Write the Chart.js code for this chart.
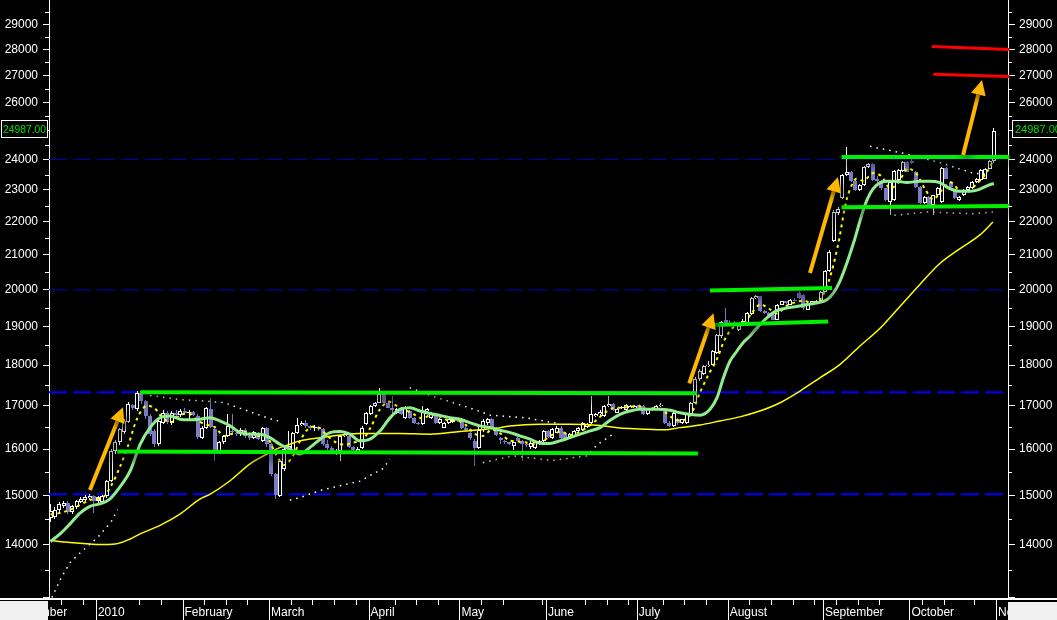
<!DOCTYPE html>
<html><head><meta charset="utf-8">
<script src="https://cdn.jsdelivr.net/npm/chart.js@4.4.1/dist/chart.umd.min.js"></script>
<style>html,body{margin:0;padding:0;background:#000;overflow:hidden}canvas{display:block}</style>
</head><body>
<canvas id="c" width="1057" height="620"></canvas>
<script>
// ---- daily OHLC (trading-day index 0 = mid December 2009) ----
const open = [14530,14560,14690,14770,14840,14650,14750,14860,14900,14950,14980,
14870,14860,14980,15300,15960,16150,16400,16630,17010,16920,17300,17120,16760,16410,16110,16600,16840,16600,16830,16790,
16880,16820,16860,16760,16260,16480,16930,16460,15930,16150,16300,16410,16370,16340,16430,16300,16250,16340,16190,16470,
16110,15450,14990,15560,16000,15970,16370,16560,16600,16530,16470,16500,16460,16110,16020,15930,15960,16300,16300,16040,15960,16030,16570,
16800,17000,17080,17280,17080,16960,16840,16920,16720,16880,16720,16600,16570,16880,16720,16800,16600,16490,16600,16620,16690,
16690,16490,16370,16190,16030,16440,16590,16690,16490,16260,16180,16150,16080,16260,16190,16120,16050,16030,16110,16180,
16410,16260,16375,16490,16370,16280,16300,16410,16430,16500,16600,16760,16800,16760,17000,17050,16840,16950,16900,16960,16960,
17020,17000,16800,16950,16960,17000,16900,16600,16530,16700,16600,16600,16800,17080,17640,17770,17970,18010,18300,18740,19180,
19100,19090,18910,19060,19045,19340,19770,19815,19410,19360,19310,19180,19590,19680,19590,19720,19900,19860,19450,19630,19640,19700,
19950,20520,21400,22260,22730,23480,23590,23300,23000,23150,23750,23860,23370,23300,23050,22620,22680,23320,23610,23920,
23940,23600,23100,22570,22780,22520,22830,22620,23720,23260,23000,22680,22840,23000,23050,23250,23320,23370,23700,23950];
const high = [14820,14760,14860,14880,14870,14800,14900,14960,15000,15020,15000,
14990,15010,15330,16000,16200,16480,16700,17100,17050,17360,17320,17150,16800,16450,16700,16900,16870,16870,16900,16920,
16950,16900,16880,16800,16520,16980,17190,16500,16180,16320,16800,16800,16420,16470,16470,16380,16420,16380,16500,16500,
16140,15480,15760,16030,16420,16400,16720,16640,16660,16560,16560,16530,16480,16200,16060,16010,16320,16380,16320,16060,16040,16520,16860,
17020,17100,17440,17300,17100,17240,16960,16940,17000,16900,16740,16620,17000,16960,16860,16820,16720,16620,16700,16710,16720,
16720,16520,16400,16220,16520,16700,16720,16720,16510,16280,16200,16170,16170,16280,16210,16160,16180,16170,16200,16430,
16430,16480,16520,16520,16400,16360,16430,16510,16620,16600,17240,16830,16900,17030,17240,17080,16940,17000,17050,17010,17030,
17050,17030,16940,16980,17020,17070,16920,16650,16860,16720,16700,16840,17100,17700,17900,18000,18100,18380,18800,19150,19500,
19180,19140,19100,19200,19380,19790,19850,19840,19440,19380,19330,19610,19700,19700,19740,19760,19960,19880,19650,19700,19720,19980,
20550,21150,22350,22450,23520,24430,23620,23350,23180,23780,23900,23880,23450,23320,23080,23280,23640,23680,23950,23940,
24120,23620,23120,22800,22800,22850,23100,23750,23740,23300,23020,22810,23020,23130,23280,23400,23680,23720,23980,25100];
const low = [14450,14500,14640,14740,14620,14620,14720,14840,14870,14900,14630,
14840,14840,14950,15280,15900,16100,16350,16600,16900,16880,17050,16700,16300,16050,16080,16580,16580,16560,16700,16740,
16780,16700,16750,16220,16230,16450,16480,15740,15900,16120,16280,16350,16300,16300,16250,16200,16220,16200,16150,16050,
15400,14920,14960,15520,15980,15940,16340,16520,16480,16430,16420,16420,16080,15980,15900,15880,15740,16270,16020,15950,15930,16000,16540,
16780,16980,17060,17060,16940,16800,16800,16790,16700,16700,16580,16540,16550,16840,16700,16580,16580,16470,16580,16600,16620,
16460,16420,16200,15620,16000,16400,16560,16480,16290,16120,16120,16100,15990,16180,15740,16050,16000,16000,16090,16160,
16260,16240,16360,16240,16200,16260,16280,16400,16420,16480,16580,16740,16760,16740,16980,16880,16820,16930,16880,16940,16940,
16940,16790,16780,16880,16940,16980,16580,16500,16500,16560,16570,16570,16780,17060,17600,17740,17940,17990,18280,18700,19060,
19000,19040,18870,19040,19020,19320,19740,19380,19330,19250,19160,19160,19570,19600,19570,19680,19750,19450,19430,19610,19620,19680,
19930,20500,21380,22200,22700,23460,23250,22980,22970,23130,23730,23300,23200,23000,22650,22200,22650,23300,23590,23580,
23850,23080,22540,22550,22500,22200,22800,22600,23350,23080,22700,22640,22820,22980,23020,23230,23300,23350,23680,23900];
const close = [14680,14700,14810,14830,14650,14770,14880,14920,14970,14990,14870,
14970,14980,15300,15970,16150,16450,16640,17040,16950,17300,17120,16760,16350,16110,16640,16840,16610,16830,16790,16880,
16820,16860,16780,16280,16480,16940,16500,15930,16150,16290,16520,16380,16340,16440,16300,16250,16380,16230,16470,16110,
15450,15000,15740,16000,16080,16370,16560,16600,16530,16480,16500,16460,16110,16020,15940,15970,16300,16340,16040,15990,16000,16490,16840,
17000,17080,17280,17080,16960,16900,16930,16800,16950,16720,16600,16570,16870,16920,16840,16600,16690,16600,16690,16680,16650,
16490,16440,16250,16030,16440,16650,16690,16510,16330,16200,16150,16120,16150,16190,16120,16100,16140,16150,16180,16410,
16280,16460,16490,16260,16225,16350,16410,16490,16605,16570,16800,16800,16860,17000,17050,16895,16920,16970,17025,17000,17000,
16960,16800,16920,16900,17000,17030,16600,16530,16840,16600,16680,16800,17075,17640,17850,17970,18010,18350,18780,19130,19100,
19060,19060,19060,19140,19360,19770,19815,19410,19360,19270,19180,19590,19680,19630,19720,19700,19770,19500,19630,19680,19700,19950,
20520,21100,22310,22410,23500,23590,23300,23000,23150,23750,23860,23320,23300,23050,22680,23260,23610,23650,23920,23600,
23870,23100,22570,22780,22520,22830,23050,23720,23370,23100,22730,22780,23000,23100,23260,23370,23650,23700,23950,24987];

// ---- indicator lines: [day index, value] ----
const greenMA = [[0,14060],[2.2,14210],[4.5,14410],[6.8,14630],[9.1,14770],[11.4,14820],[13.7,14920],[16,15170],[18.4,15520],[20.7,16110],[23,16490],[25.3,16720],[27.6,16760],[29.9,16685],[32.2,16670],[34.5,16685],[36.8,16720],[39.1,16645],[41.5,16530],[43.8,16375],[46.1,16340],[48.4,16340],[50.7,16260],[53,16110],[55.3,16000],[57.6,15890],[59.9,16035],[62.3,16225],[64.6,16375],[66.9,16400],[69.2,16340],[71.5,16187],[73.8,16225],[76.1,16414],[78.5,16722],[80.8,16920],[83.1,16955],[85.4,16877],[87.7,16820],[90,16775],[92.3,16722],[94.6,16685],[96.9,16605],[99.2,16530],[101.6,16490],[103.9,16430],[106.2,16375],[108.5,16300],[110.8,16225],[113.1,16135],[115.4,16130],[117.7,16187],[120,16260],[122.4,16340],[124.7,16414],[127,16490],[129.3,16660],[131.6,16800],[133.9,16877],[136.2,16920],[138.6,16920],[140.8,16920],[143.2,16895],[145.5,16838],[147.8,16800],[150.1,16780],[152.4,16920],[154,17190],[155.5,17682],[157,18096],[158.6,18351],[160,18566],[161.6,18740],[163.2,18955],[165.5,19225],[167.8,19423],[170.1,19496],[172.4,19540],[174.7,19586],[177,19632],[179.4,19724],[180.9,19907],[182.4,20234],[185.9,21490],[187,22000],[188.2,22518],[189.4,22890],[190.9,23156],[193.2,23285],[195.5,23285],[197.9,23240],[200.9,23285],[203.2,23285],[205.5,23240],[207.8,23048],[210.2,22960],[212.5,22960],[214.8,23030],[216.8,23156],[218,23210]];
const yellowMA = [[0,14080],[4.5,14040],[9.1,14010],[11.4,14000],[14.9,14010],[18.4,14110],[20.7,14210],[25.3,14380],[29.9,14610],[34.5,14920],[36.8,15020],[41.5,15308],[46.1,15675],[50.7,15925],[53,16035],[55.3,16110],[57.6,16187],[62.3,16260],[66.9,16320],[71.5,16355],[80.8,16355],[87.7,16340],[94.6,16400],[99.2,16440],[103.9,16490],[106.2,16530],[113.1,16570],[120,16570],[127,16540],[131.6,16480],[136.2,16460],[142,16440],[145.5,16490],[150.1,16550],[154.7,16645],[159.3,16740],[163.9,16877],[168.6,17075],[173.2,17356],[177.8,17682],[182.4,18012],[187,18480],[191.7,18950],[196.3,19540],[200.9,20150],[205.5,20750],[210.2,21190],[214.8,21600],[217.8,21990]];
const yellowFast = [[0,14600],[3,14650],[6,14760],[9,14900],[12,14950],[14,15200],[16,15600],[18,16100],[20,16700],[22,17000],[24,16950],[26,16700],[28,16620],[30,16780],[32,16820],[34,16650],[36,16560],[38,16500],[40,16300],[42,16350],[44,16400],[46,16360],[48,16300],[50,16280],[52,15900],[54,15650],[56,15850],[58,16250],[60,16500],[62,16490],[64,16300],[66,16150],[68,16100],[70,16150],[72,16200],[74,16500],[76,16900],[78,17100],[80,17000],[82,16900],[84,16800],[86,16700],[88,16800],[90,16750],[92,16650],[94,16660],[96,16550],[98,16350],[100,16300],[102,16450],[104,16350],[106,16200],[108,16170],[110,16150],[112,16120],[114,16200],[116,16330],[118,16400],[120,16320],[122,16380],[124,16500],[126,16650],[128,16830],[130,16950],[132,16950],[134,16980],[136,16990],[138,16920],[140,16950],[142,16850],[144,16700],[146,16650],[148,16800],[150,17300],[152,17750],[154,18150],[156,18700],[158,19000],[160,19050],[162,19350],[164,19600],[166,19480],[168,19350],[170,19550],[172,19650],[174,19700],[176,19640],[178,19750],[180,20300],[182,21300],[184,22700],[186,23350],[188,23300],[190,23550],[192,23450],[194,23050],[196,23250],[198,23700],[200,23550],[202,23050],[204,22700],[206,23000],[208,23250],[210,23000],[212,22950],[214,23200],[216,23500],[218,24000]];
const upperBand = [
  [[23,17250],[30,17150],[35,17120],[40,17080],[45,16900],[50,16720],[53.7,16610]],
  [[83,17440],[87.7,17250],[92.3,17100],[96.9,16950],[101.6,16780],[109.6,16720],[117.7,16580]],
  [[189.4,24450],[193.3,24330],[197.5,24200],[205.5,23900],[213.2,23550],[217,23500]]
];
const lowerBand = [
  [[0.3,13000],[2.5,13370],[4.5,13650],[7,13850],[11,14150],[14,14450],[15.5,14700]],
  [[55.3,14900],[57.6,14950],[62.3,15100],[66.9,15200],[71.5,15300],[76.8,15570],[78.5,15780]],
  [[99.9,15700],[103.9,15790],[106.9,15850],[116.1,15750],[124,15850],[126.3,16100],[130,16340]],
  [[195,22200],[202.5,22300],[213.2,22250],[217.8,22300]]
];

// ---- drawn annotations: [[x1,v1],[x2,v2]] ----
const greenLevels = [
  [[20.7,17330],[149.4,17300]],
  [[15.4,15950],[149.6,15905]],
  [[152.4,19980],[180.6,20050]],
  [[153.1,19040],[179.7,19130]],
  [[182.8,24090],[221.6,24090]],
  [[182.8,22450],[221.6,22490]]
];
const redLevels = [
  [[203.6,28115],[221.6,28000]],
  [[204.0,27050],[221.6,26960]]
];
const blueLevels = [17330, 15020];
const greyLevels = [24000, 20000];
const arrows = [
  [[9.1,15110],[16.74,16967]],
  [[147.6,17546],[153.2,19354]],
  [[175.5,20478],[181.97,23425]],
  [[210.9,24158],[215.26,26832]]
];

// ---- axis ticks ----
const yTickValues = [13000,14000,15000,16000,17000,18000,19000,20000,21000,22000,23000,24000,25000,26000,27000,28000,29000];
const monthLabels = ['December','2010','February','March','April','May','June','July','August','September','October','November'];
const monthBoundaries = [-9.4,10.5,30.5,50.5,73.5,94.5,114.5,135.5,156.5,178.5,198.5,218.5];
const weekBoundaries = [2.5,7.5,20.5,25.5,35.5,40.5,45.5,55.5,60.5,65.5,70.5,79.5,84.5,89.5,99.5,104.5,113.5,123.5,128.5,133.5,141.5,146.5,151.5,161.5,166.5,171.5,176.5,181.5,186.5,191.5,201.5,206.5,213.5];

const XMIN = -0.36, XMAX = 221.27, YMIN = 12990, YMAX = 30010;
const PURPLE = '#7b7bc4', ORANGE = '#ffb800';
const days = close.map((_, i) => i);
const isUp = i => close[i] >= open[i];
const pts = arr => arr.map(([x, y]) => ({x, y}));
const segs = list => { const out = []; list.forEach((s, k) => { if (k) out.push({x: s[0][0] - 0.01, y: null}); s.forEach(([x, y]) => out.push({x, y})); }); return out; };

Chart.defaults.font.family = '"Liberation Sans", Arial, sans-serif';
Chart.defaults.font.size = 12;
Chart.defaults.color = '#ffffff';

const datasets = [];
blueLevels.forEach(v => datasets.push({type:'line', data:[{x:XMIN,y:v},{x:XMAX,y:v}], borderColor:'#0000ff', borderWidth:2, borderDash:[18,6], pointRadius:0, order:20}));
greyLevels.forEach(v => datasets.push({type:'line', data:[{x:XMIN,y:v},{x:XMAX,y:v}], borderColor:'#0000c8', borderWidth:1, borderDash:[18,6], pointRadius:0, order:20}));
datasets.push({type:'bar', crisp:true, data: days.map(i => ({x:i, y:[low[i], high[i]]})), backgroundColor: c => isUp(c.dataIndex) ? '#ffffff' : PURPLE, borderWidth:0, barThickness:1, inflateAmount:0, grouped:false, order:15});
datasets.push({type:'bar', crisp:true, data: days.map(i => ({x:i, y:[open[i], close[i]]})), backgroundColor: c => isUp(c.dataIndex) ? '#000000' : PURPLE, borderColor: c => isUp(c.dataIndex) ? '#ffffff' : PURPLE, borderWidth:1, borderSkipped:false, barThickness:4, inflateAmount:0, grouped:false, order:14});
datasets.push({type:'line', data: segs(upperBand), borderColor:'#ffffff', borderWidth:1.5, borderDash:[1.5,5], pointRadius:0, spanGaps:false, order:12});
datasets.push({type:'line', data: segs(lowerBand), borderColor:'#ffffff', borderWidth:1.5, borderDash:[1.5,5], pointRadius:0, spanGaps:false, order:12});
datasets.push({type:'line', data: pts(yellowMA), borderColor:'#ffff00', borderWidth:1.5, pointRadius:0, cubicInterpolationMode:'monotone', order:11});
datasets.push({type:'line', data: pts(yellowFast), borderColor:'#ffff00', borderWidth:2, borderDash:[3,4], pointRadius:0, tension:0.3, order:10});
datasets.push({type:'line', data: pts(greenMA), borderColor:'#90ee90', borderWidth:3, pointRadius:0, cubicInterpolationMode:'monotone', order:9});
greenLevels.forEach(s => datasets.push({type:'line', data: pts(s), borderColor:'#00f000', borderWidth:4, pointRadius:0, shadow:true, clip:false, order:3}));
redLevels.forEach(s => datasets.push({type:'line', data: pts(s), borderColor:'#ff0000', borderWidth:3, pointRadius:0, shadow:true, clip:false, order:3}));

function yAxis(pos) {
  return {
    type:'logarithmic', position:pos, min:YMIN, max:YMAX, bounds:'data',
    grid:{display:true, drawOnChartArea:false, drawTicks:true, tickLength: pos==='left'?6:7, tickColor:'#ffffff', color:'#ffffff'},
    border:{display:true, color:'#ffffff', width:1},
    ticks:{autoSkip:false, padding: pos==='left'?5:4, color:'#ffffff', callback: v => v === 13000 ? '' : String(v)},
    afterBuildTicks: s => { s.ticks = yTickValues.map(v => ({value:v})); },
    afterFit: s => { s.width = 49; s.paddingTop = 0; s.paddingBottom = 0; }
  };
}

const decor = {
  id:'decor',
  beforeDraw(chart) { const c = chart.ctx; c.save(); c.fillStyle = '#000'; c.fillRect(0,0,chart.width,chart.height); c.restore(); },
  beforeDatasetDraw(chart, args) {
    const ds = chart.data.datasets[args.index], c = chart.ctx;
    if (ds.crisp) {
      const orig = CanvasRenderingContext2D.prototype.rect;
      c.rect = function (x, y, w, h) {
        const l = Math.round(x), r = Math.round(x + w), t = Math.round(y), b = Math.round(y + h);
        return orig.call(this, l, t, Math.max(r - l, 1), Math.max(b - t, 1));
      };
    }
    if (ds.shadow) { c.save(); c.shadowColor = 'rgba(0,0,0,0.9)'; c.shadowBlur = 8; c.shadowOffsetX = 2; c.shadowOffsetY = 5; }
  },
  afterDatasetDraw(chart, args) {
    const ds = chart.data.datasets[args.index], c = chart.ctx;
    if (ds.crisp) delete c.rect;
    if (ds.shadow) c.restore();
  },
  afterDatasetsDraw(chart) {
    const c = chart.ctx, xs = chart.scales.x, ys = chart.scales.y;
    c.save();
    c.shadowColor = 'rgba(0,0,0,0.9)'; c.shadowBlur = 8; c.shadowOffsetX = 3; c.shadowOffsetY = 4;
    arrows.forEach(([[i1,v1],[i2,v2]]) => {
      const x1 = xs.getPixelForValue(i1), y1 = ys.getPixelForValue(v1);
      const x2 = xs.getPixelForValue(i2), y2 = ys.getPixelForValue(v2);
      const a = Math.atan2(y2-y1, x2-x1), hl = 15, hw = 7.5;
      const bx = x2 - hl*Math.cos(a), by = y2 - hl*Math.sin(a);
      c.strokeStyle = ORANGE; c.lineWidth = 4; c.lineCap = 'butt';
      c.beginPath(); c.moveTo(x1,y1); c.lineTo(bx,by); c.stroke();
      c.fillStyle = ORANGE; c.beginPath(); c.moveTo(x2,y2);
      c.lineTo(bx + hw*Math.sin(a), by - hw*Math.cos(a));
      c.lineTo(bx - hw*Math.sin(a), by + hw*Math.cos(a));
      c.closePath(); c.fill();
    });
    c.restore();
  },
  afterDraw(chart) {
    const c = chart.ctx, xs = chart.scales.x, ys = chart.scales.y, a = chart.chartArea;
    c.save();
    c.fillStyle = '#ffffff'; c.fillRect(0, a.bottom, chart.width, 2);
    c.fillStyle = '#f0f0f0';
    c.fillRect(0, a.bottom + 3, a.left - 1, chart.height - a.bottom - 3);
    c.fillRect(a.right, a.bottom + 4, chart.width - a.right, chart.height - a.bottom - 4);
    c.fillStyle = '#ffffff';
    monthBoundaries.slice(1).forEach(b => { const x = Math.round(xs.getPixelForValue(b)); c.fillRect(x, a.bottom + 2, 1, chart.height - a.bottom); });
    weekBoundaries.forEach(b => { const x = Math.round(xs.getPixelForValue(b)); c.fillRect(x, a.bottom + 2, 1, 5); });
    for (let v = 13500; v < 30000; v += 1000) {
      const y = Math.round(ys.getPixelForValue(v));
      c.fillRect(a.left - 4, y, 4, 1);
      c.fillRect(a.right, y, 4, 1);
    }
    const last = close[close.length - 1];
    const py = Math.round(ys.getPixelForValue(last)) - 11;
    c.fillStyle = '#000'; c.strokeStyle = '#ffffff'; c.lineWidth = 1;
    c.fillRect(0, py, 48, 17); c.strokeRect(1.5, py + 0.5, 46, 17);
    c.fillRect(1012, py, 45, 17); c.strokeRect(1012.5, py + 0.5, 50, 17);
    c.fillStyle = '#00e000'; c.font = '11px "Liberation Sans", Arial, sans-serif'; c.textBaseline = 'middle'; c.textAlign = 'left';
    c.fillText(last.toFixed(2), 3, py + 9.5, 43);
    c.fillText(last.toFixed(2), 1015, py + 9.5);
    c.restore();
  }
};

new Chart(document.getElementById('c'), {
  type:'bar',
  data:{datasets},
  plugins:[decor],
  options:{
    responsive:false, animation:false, events:[],
    layout:{padding:0},
    plugins:{legend:{display:false}, tooltip:{enabled:false}},
    scales:{
      x:{type:'linear', min:XMIN, max:XMAX, bounds:'data', offset:false,
        grid:{display:false}, border:{display:false},
        ticks:{autoSkip:false, maxRotation:0, minRotation:0, align:'start', padding:-1, color:'#ffffff', callback:(v, idx) => monthLabels[idx]},
        afterBuildTicks: s => { s.ticks = monthBoundaries.map(b => ({value: b + 0.45})); },
        afterFit: s => { s.height = 22; s.paddingLeft = 0; s.paddingRight = 0; }
      },
      y: yAxis('left'),
      y2: yAxis('right')
    }
  }
});
</script>
</body></html>
